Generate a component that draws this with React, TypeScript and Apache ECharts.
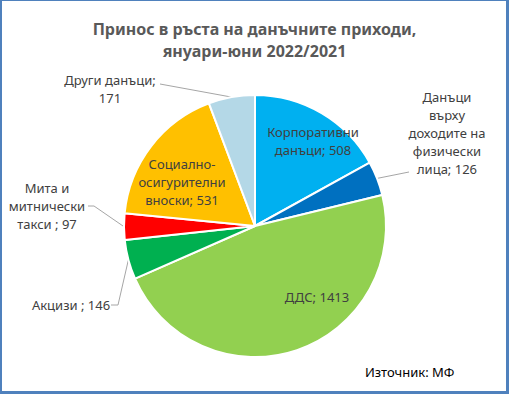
import React, { useEffect, useRef } from "react";
import * as echarts from "echarts";

const categories = [
  "Корпоративни\nданъци",
  "Данъци\nвърху\nдоходите на\nфизически\nлица",
  "ДДС",
  "Акцизи ",
  "Мита и\nмитнически\nтакси ",
  "Социално-\nосигурителни\nвноски",
  "Други данъци",
];
const values = [508, 126, 1413, 146, 97, 531, 171];
const labelTexts = [
  "Корпоративни\nданъци; 508",
  "Данъци\nвърху\nдоходите на\nфизически\nлица; 126",
  "ДДС; 1413",
  "Акцизи ; 146",
  "Мита и\nмитнически\nтакси ; 97",
  "Социално-\nосигурителни\nвноски; 531",
  "Други данъци;\n171",
];
const colors = ["#00B0F0", "#0070C0", "#92D050", "#00B050", "#FF0000", "#FFC000", "#B4D8E7"];

// label anchor positions (center of text block) and guide-line ends
const labelPos: [number, number][] = [
  [313, 141],
  [447, 133],
  [317, 297],
  [71, 305],
  [47, 206],
  [182, 182],
  [110, 89],
];
const lineEnds: ([number, number][] | null)[] = [
  null,
  [[409, 172]],
  null,
  [[118, 305], [111, 305]],
  [[94, 206], [88, 206]],
  null,
  [[160, 84]],
];

export default function App() {
  const ref = useRef<HTMLDivElement>(null);
  useEffect(() => {
    if (!ref.current) return;
    const chart = echarts.init(ref.current, undefined, { renderer: "svg" });
    const font = "'Noto Sans', sans-serif";
    chart.setOption({
      animation: false,
      backgroundColor: "transparent",
      title: {
        text: "Принос в ръста на данъчните приходи,\nянуари-юни 2022/2021",
        left: "center",
        top: 13,
        textStyle: {
          fontFamily: font,
          fontSize: 16,
          fontWeight: "bold",
          color: "#595959",
          lineHeight: 22,
        },
      },
      graphic: [
        {
          type: "text",
          left: 365,
          top: 365,
          style: { text: "Източник: МФ", fontFamily: font, fontSize: 13, fill: "#000" },
        },
      ],
      series: [
        {
          type: "pie",
          center: [255, 226],
          radius: [0, 131],
          startAngle: 90,
          clockwise: true,
          avoidLabelOverlap: false,
          itemStyle: { borderColor: "#fff", borderWidth: 2 },
          label: {
            show: true,
            position: "outside",
            fontFamily: font,
            fontSize: 13,
            lineHeight: 18,
            color: "#404040",
            align: "center",
            formatter: (p: any) => labelTexts[p.dataIndex],
          },
          labelLine: {
            show: true,
            lineStyle: { color: "#A6A6A6", width: 1 },
          },
          labelLayout: (p: any) => {
            const i = p.dataIndex;
            const res: any = {
              x: labelPos[i][0],
              y: labelPos[i][1],
              align: "center",
              verticalAlign: "middle",
            };
            const ends = lineEnds[i];
            if (ends && p.labelLinePoints) {
              res.labelLinePoints = [p.labelLinePoints[0], ...ends];
            } else {
              res.labelLinePoints = [[0, 0], [0, 0]];
            }
            return res;
          },
          data: categories.map((c, i) => ({
            name: c,
            value: values[i],
            itemStyle: { color: colors[i] },
            labelLine: { show: lineEnds[i] !== null },
          })),
        },
      ],
    });
    return () => chart.dispose();
  }, []);
  return (
    <div
      style={{
        position: "fixed",
        left: 0,
        top: 0,
        width: 509,
        height: 394,
        boxSizing: "border-box",
        background: "#fff",
        borderStyle: "solid",
        borderColor: "#4F81BD",
        borderWidth: "1px 3px 3px 2px",
      }}
    >
      <div ref={ref} style={{ position: "absolute", left: -2, top: -1, width: 509, height: 394 }} />
    </div>
  );
}
